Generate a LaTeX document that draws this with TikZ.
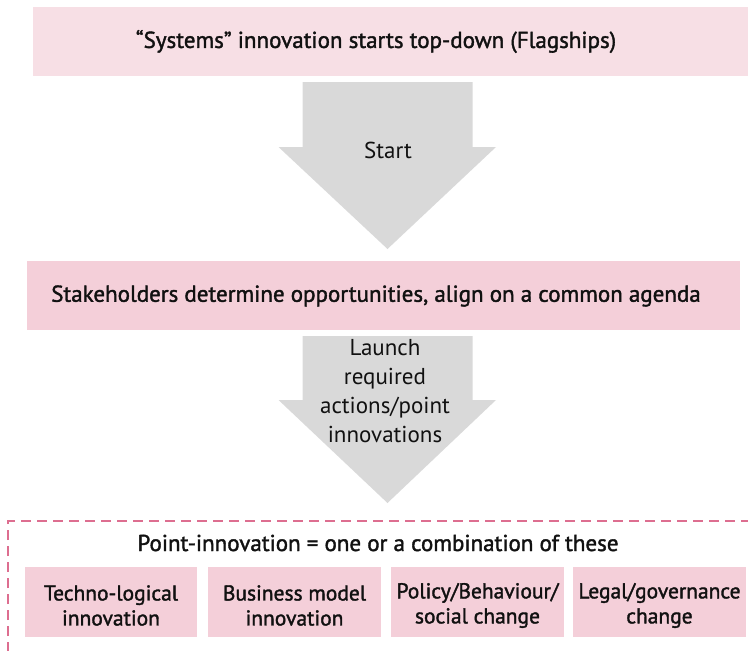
\documentclass[tikz,border=0pt]{standalone}
\usepackage{fontspec}
\setmainfont{PT Sans}
\newfontfamily\medfont[FakeBold=1.6]{PT Sans}
\definecolor{toppink}{HTML}{F7DFE5}
\definecolor{boxpink}{HTML}{F4CFD9}
\definecolor{arrowgray}{HTML}{D9D9D9}
\definecolor{dashpink}{HTML}{DD6E90}
\definecolor{ink}{HTML}{111111}
\tikzset{
  bigtext/.style={font=\fontsize{23}{29}\selectfont\medfont, text=ink, inner sep=0pt},
  arrowtext/.style={font=\fontsize{23}{29}\selectfont, text=ink, inner sep=0pt, align=center},
  smalltext/.style={font=\fontsize{21.5}{25}\selectfont\medfont, text=ink, inner sep=0pt, align=center},
  pinkbox/.style={fill=boxpink, draw=none, inner sep=0pt},
  blockarrow/.style={fill=arrowgray, draw=none},
  dashframe/.style={draw=dashpink, line width=2pt, dash pattern=on 10pt off 6pt}
}
\begin{document}
\begin{tikzpicture}[x=1pt,y=-1pt]
\useasboundingbox (0,0) rectangle (748,651);
\clip (0,0) rectangle (748,651);
% top box
\node[fill=toppink, inner sep=0pt, minimum width=715pt, minimum height=69pt] (top) at (390.5,41.5) {};
\node[bigtext] (toptext) at (376,41.5) {“Systems” innovation starts top-down (Flagships)};
% arrow 1
\coordinate (a1) at (387.5,82);
\fill[blockarrow] ([xshift=-85pt]a1) -- ([xshift=85pt]a1) -- ++(0,65) -- ++(23.5,0) -- (387.5,249) -- (278.5,147) -- (302.5,147) -- cycle;
\node[arrowtext] (start) at (388,150) {Start};
% box 2
\node[pinkbox, minimum width=713pt, minimum height=69pt] (stake) at (383.5,295.5) {};
\node[bigtext] (staketext) at (376,296) {Stakeholders determine opportunities, align on a common agenda};
% arrow 2
\coordinate (a2) at (387.5,336);
\fill[blockarrow] ([xshift=-85pt]a2) -- ([xshift=85pt]a2) -- ++(0,64) -- ++(23.5,0) -- (387.5,503) -- (278.5,400) -- (302.5,400) -- cycle;
\node[arrowtext] (launch) at (385,391.5) {Launch\\required\\actions/point\\innovations};
% dashed frame
\draw[dashframe] (8,700) -- (8,521) -- (800,521);
\node[bigtext] (pi) at (378,543) {Point-innovation = one or a combination of these};
% four boxes
\node[pinkbox, minimum width=172pt, minimum height=70pt] (b1) at (111,602) {};
\node[pinkbox, minimum width=173pt, minimum height=70pt] (b2) at (294.5,602) {};
\node[pinkbox, minimum width=173pt, minimum height=70pt] (b3) at (477.5,602) {};
\node[pinkbox, minimum width=173pt, minimum height=70pt] (b4) at (659.5,602) {};
\node[smalltext] (t1) at (111,605.5) {Techno-logical\\innovation};
\node[smalltext] (t2) at (294.5,605.5) {Business model\\innovation};
\node[smalltext] (t3) at (477.5,605.5) {Policy/Behaviour/\\social change};
\node[smalltext] (t4) at (659.5,605.5) {Legal/governance\\change};
\end{tikzpicture}
\end{document}
